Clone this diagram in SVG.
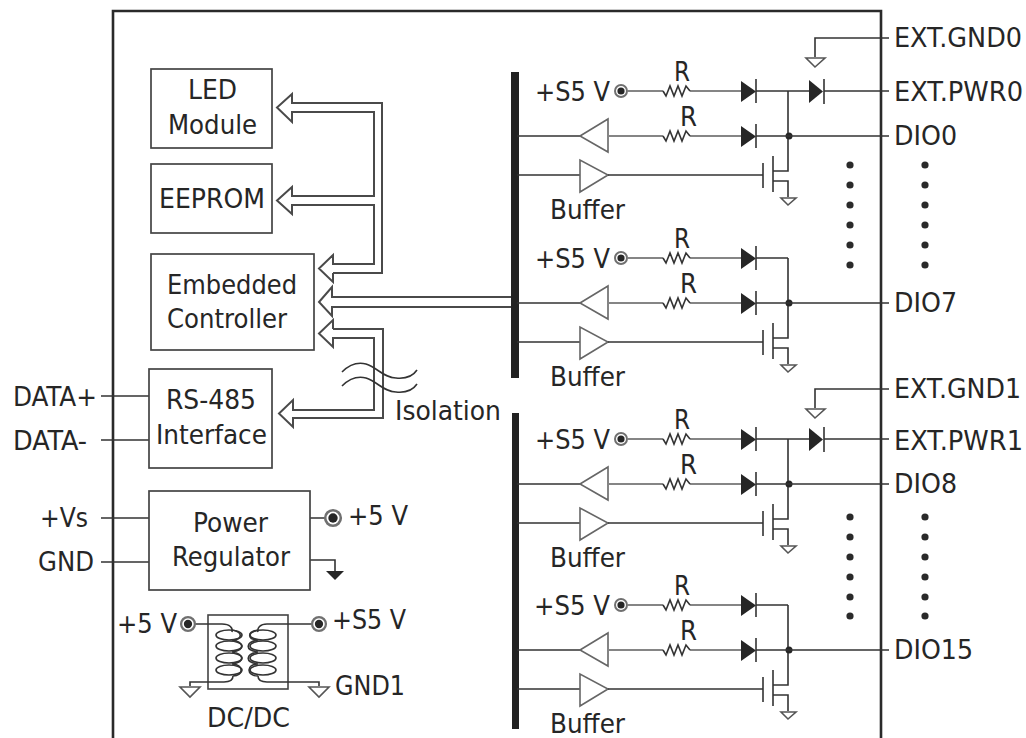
<svg xmlns="http://www.w3.org/2000/svg" xmlns:xlink="http://www.w3.org/1999/xlink" width="1026" height="738" viewBox="0 0 1026 738">
<style>
text{font-family:"DejaVu Sans Condensed","DejaVu Sans","Liberation Sans",sans-serif;font-size:27px;fill:#262626}
text.ext{font-size:26px}
.box{fill:#fff;stroke:#444;stroke-width:1.7}
.w{fill:none;stroke:#333;stroke-width:1.6}
.g{fill:none;stroke:#858585;stroke-width:2}
.bus{fill:none;stroke:#4a4a4a;stroke-width:2}
.tri{fill:#fff;stroke:#666;stroke-width:1.6}
.gnd{fill:#fff;stroke:#555;stroke-width:1.6}
.k{fill:#262626;stroke:none}
.d{fill:#2a2a2a}
.bar{fill:#222}
</style>
<defs>
<path id="res" class="w" d="M663 0L666 5L670 -5L674 5L678 -5L682 5L686 -5L690 0"/>
<g id="term"><circle r="6" fill="#fff" stroke="#707070" stroke-width="2"/><circle r="3.6" class="k"/></g>
<g id="dio"><path class="k" d="M741 -10V11L756 0.5Z"/><path class="w" d="M756 -12V12"/></g>
<g id="channel">
<use xlink:href="#term" href="#term" x="621" y="91"/>
<path class="g" d="M628 91H663M690 91H741"/>
<use xlink:href="#res" href="#res" y="91"/>
<use xlink:href="#dio" href="#dio" y="91"/>
<path class="w" d="M517 136H580M517 175H580"/>
<path class="tri" d="M580 136L608 119V152Z"/>
<path class="tri" d="M580 160V192L608 175Z"/>
<path class="g" d="M608 136H663M690 136H741"/>
<use xlink:href="#res" href="#res" y="136"/>
<use xlink:href="#dio" href="#dio" y="136"/>
<path class="w" d="M608 175H763M763 163V188M773 156V192M773 171H788V91M773 181H788V197"/>
<path class="gnd" d="M781 198H796L788 205Z"/>
<circle class="k" cx="789" cy="136" r="3.5"/>
</g>
</defs>
<rect width="1026" height="738" fill="#fff"/>
<path id="frame" d="M113 738V11H881V738" fill="none" stroke="#2a2a2a" stroke-width="2.6"/>
<rect id="bar-top" class="bar" x="511" y="72" width="8" height="306"/>
<rect id="bar-bottom" class="bar" x="512" y="413" width="7" height="316"/>

<g id="connectors">
<path class="bus" d="M333 273H382V103H292V94L277 107.5L292 122V112H374V196H292V187L277 200.5L292 214V205H374V264H333V255L319 268.5L333 282V273"/>
<path class="bus" d="M511 297H332V287L319 302L332 316V307H511"/>
<path class="bus" d="M333 329H383V418H293V427L279 413.5L293 400V410H374V338H333V347L319 333.5L333 320V329"/>
<path class="w" d="M342 372C350 364 358 362 366 364C378 368 384 378 396 378C406 379 413 376 417 370"/>
<path class="w" d="M342 386C350 378 358 376 366 378C378 382 384 392 396 392C406 393 413 390 417 384"/>
<path class="w" d="M101 396H151M101 440H151M101 518H149M101 562H149"/>
<path class="w" d="M310 518H325M310 560H335V572"/>
</g>

<g id="led"><rect class="box" x="151" y="69" width="121" height="79"/><text x="188" y="99" textLength="49" lengthAdjust="spacingAndGlyphs">LED</text><text x="168" y="134" textLength="89" lengthAdjust="spacingAndGlyphs">Module</text></g>
<g id="eeprom"><rect class="box" x="151" y="164" width="121" height="69"/><text x="159" y="208" textLength="106" lengthAdjust="spacingAndGlyphs">EEPROM</text></g>
<g id="controller"><rect class="box" x="151" y="254" width="163" height="96"/><text x="167" y="294" textLength="130" lengthAdjust="spacingAndGlyphs">Embedded</text><text x="167" y="328" textLength="120" lengthAdjust="spacingAndGlyphs">Controller</text></g>
<g id="rs485"><rect class="box" x="149" y="369" width="123" height="99"/><text x="166" y="409" textLength="90" lengthAdjust="spacingAndGlyphs">RS-485</text><text x="156" y="444" textLength="111" lengthAdjust="spacingAndGlyphs">Interface</text></g>
<g id="regulator"><rect class="box" x="149" y="491" width="161" height="99"/><text x="193" y="532" textLength="75" lengthAdjust="spacingAndGlyphs">Power</text><text x="172" y="566" textLength="118" lengthAdjust="spacingAndGlyphs">Regulator</text></g>

<g id="left-labels">
<text x="13" y="406" textLength="84" lengthAdjust="spacingAndGlyphs">DATA+</text>
<text x="13" y="450" textLength="74" lengthAdjust="spacingAndGlyphs">DATA-</text>
<text x="40" y="527" textLength="48" lengthAdjust="spacingAndGlyphs">+Vs</text>
<text x="38" y="571" textLength="56" lengthAdjust="spacingAndGlyphs">GND</text>
</g>
<text id="isolation" x="395" y="420" textLength="106" lengthAdjust="spacingAndGlyphs">Isolation</text>

<g id="power-out">
<g transform="translate(333 518) scale(1.3)"><use xlink:href="#term" href="#term"/></g>
<text x="348" y="525" textLength="60" lengthAdjust="spacingAndGlyphs">+5 V</text>
<path class="k" d="M326 571H344L335 580Z"/>
</g>

<g id="dcdc">
<rect x="208" y="615" width="80" height="74" fill="none" stroke="#444" stroke-width="1.6"/>
<path class="w" d="M195 624H222C230 624 233 628 232 632M232 640C242 640 244 632 232 630M232 652C246 650 244 642 232 640M232 664C246 662 244 654 232 652M233 676C244 676 244 664 232 664M233 676C233 680 230 682 224 682H190V686"/>
<ellipse class="w" cx="229" cy="635" rx="13" ry="5"/><ellipse class="w" cx="229" cy="646" rx="13" ry="5"/><ellipse class="w" cx="229" cy="658" rx="13" ry="5"/><ellipse class="w" cx="229" cy="670" rx="13" ry="5"/>
<path class="w" d="M313 624H267C260 624 257 628 258 632M258 640C248 640 246 632 258 630M258 652C244 650 246 642 258 640M258 664C244 662 246 654 258 652M258 676C246 676 246 664 258 664M258 676C258 680 261 682 267 682H319V686"/>
<ellipse class="w" cx="263" cy="635" rx="13" ry="5"/><ellipse class="w" cx="263" cy="646" rx="13" ry="5"/><ellipse class="w" cx="263" cy="658" rx="13" ry="5"/><ellipse class="w" cx="263" cy="670" rx="13" ry="5"/>
<path class="gnd" d="M180 687H200L190 697Z"/><path class="gnd" d="M309 687H329L319 697Z"/>
<g transform="translate(188 624) scale(1.15)"><use xlink:href="#term" href="#term"/></g>
<g transform="translate(319 624) scale(1.15)"><use xlink:href="#term" href="#term"/></g>
<text x="117" y="633" textLength="60" lengthAdjust="spacingAndGlyphs">+5 V</text>
<text x="332" y="629" textLength="74" lengthAdjust="spacingAndGlyphs">+S5 V</text>
<text x="335" y="695" textLength="70" lengthAdjust="spacingAndGlyphs">GND1</text>
<text x="207" y="727" textLength="83" lengthAdjust="spacingAndGlyphs">DC/DC</text>
</g>

<g id="channel-0">
<use xlink:href="#channel" href="#channel"/>
<text x="535" y="101" textLength="75" lengthAdjust="spacingAndGlyphs">+S5 V</text><text x="674" y="81" textLength="16" lengthAdjust="spacingAndGlyphs">R</text><text x="680" y="126" textLength="17" lengthAdjust="spacingAndGlyphs">R</text><text x="550" y="219" textLength="75" lengthAdjust="spacingAndGlyphs">Buffer</text>
<path class="w" d="M756 91H809M824 91H889M756 136H889"/>
<path class="k" d="M809 80V103L823 91.5Z"/><path class="w" d="M824 79V104"/>
<path class="w" d="M889 38H815V57"/><path class="gnd" d="M806 58H825L815 67Z"/>
<text class="ext" x="894" y="47" textLength="128" lengthAdjust="spacingAndGlyphs">EXT.GND0</text>
<text class="ext" x="894" y="101" textLength="129" lengthAdjust="spacingAndGlyphs">EXT.PWR0</text>
<text x="894" y="145" textLength="63" lengthAdjust="spacingAndGlyphs">DIO0</text>
</g>

<g id="channel-7" transform="translate(0 167)">
<use xlink:href="#channel" href="#channel"/>
<text x="535" y="101" textLength="75" lengthAdjust="spacingAndGlyphs">+S5 V</text><text x="674" y="81" textLength="16" lengthAdjust="spacingAndGlyphs">R</text><text x="680" y="126" textLength="17" lengthAdjust="spacingAndGlyphs">R</text><text x="550" y="219" textLength="75" lengthAdjust="spacingAndGlyphs">Buffer</text>
<path class="w" d="M756 91H788M756 136H889"/>
<text x="894" y="145" textLength="63" lengthAdjust="spacingAndGlyphs">DIO7</text>
</g>

<g id="channel-8" transform="translate(0 348)">
<use xlink:href="#channel" href="#channel"/>
<text x="535" y="101" textLength="75" lengthAdjust="spacingAndGlyphs">+S5 V</text><text x="674" y="81" textLength="16" lengthAdjust="spacingAndGlyphs">R</text><text x="680" y="126" textLength="17" lengthAdjust="spacingAndGlyphs">R</text><text x="550" y="219" textLength="75" lengthAdjust="spacingAndGlyphs">Buffer</text>
<path class="w" d="M756 91H809M824 91H889M756 136H889"/>
<path class="k" d="M809 80V103L823 91.5Z"/><path class="w" d="M824 79V104"/>
<path class="w" d="M889 41H815V60"/><path class="gnd" d="M806 61H825L815 70Z"/>
<text class="ext" x="894" y="50" textLength="127" lengthAdjust="spacingAndGlyphs">EXT.GND1</text>
<text class="ext" x="894" y="102" textLength="129" lengthAdjust="spacingAndGlyphs">EXT.PWR1</text>
<text x="894" y="145" textLength="63" lengthAdjust="spacingAndGlyphs">DIO8</text>
</g>

<g id="channel-15" transform="translate(0 514)">
<use xlink:href="#channel" href="#channel"/>
<text x="534" y="101" textLength="76" lengthAdjust="spacingAndGlyphs">+S5 V</text><text x="674" y="81" textLength="16" lengthAdjust="spacingAndGlyphs">R</text><text x="680" y="126" textLength="17" lengthAdjust="spacingAndGlyphs">R</text><text x="550" y="219" textLength="75" lengthAdjust="spacingAndGlyphs">Buffer</text>
<path class="w" d="M756 91H788M756 136H889"/>
<text x="894" y="145" textLength="79" lengthAdjust="spacingAndGlyphs">DIO15</text>
</g>

<g id="ellipsis-dots" class="d">
<circle cx="850" cy="165" r="3.6"/><circle cx="850" cy="185" r="3.6"/><circle cx="850" cy="205" r="3.6"/><circle cx="850" cy="225" r="3.6"/><circle cx="850" cy="245" r="3.6"/><circle cx="850" cy="265" r="3.6"/>
<circle cx="925" cy="165" r="3.6"/><circle cx="925" cy="185" r="3.6"/><circle cx="925" cy="205" r="3.6"/><circle cx="925" cy="225" r="3.6"/><circle cx="925" cy="245" r="3.6"/><circle cx="925" cy="265" r="3.6"/>
<circle cx="850" cy="517" r="3.6"/><circle cx="850" cy="537" r="3.6"/><circle cx="850" cy="557" r="3.6"/><circle cx="850" cy="577" r="3.6"/><circle cx="850" cy="597" r="3.6"/><circle cx="850" cy="616" r="3.6"/>
<circle cx="925" cy="517" r="3.6"/><circle cx="925" cy="537" r="3.6"/><circle cx="925" cy="557" r="3.6"/><circle cx="925" cy="577" r="3.6"/><circle cx="925" cy="597" r="3.6"/><circle cx="925" cy="616" r="3.6"/>
</g>
</svg>
